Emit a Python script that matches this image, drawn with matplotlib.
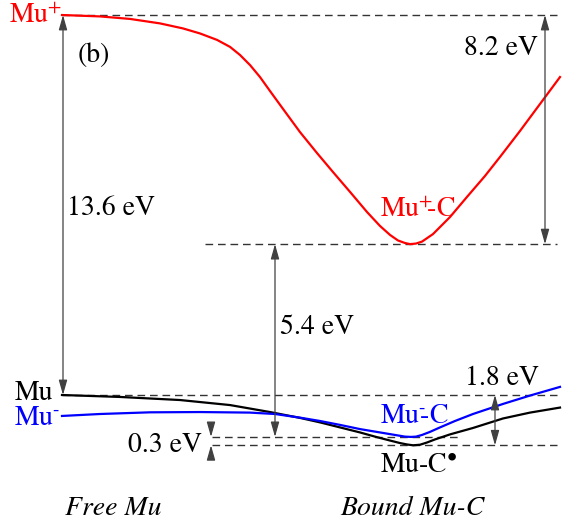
import numpy as np
import matplotlib.pyplot as plt

plt.rcParams['font.family'] = ['STIXGeneral', 'DejaVu Serif']
plt.rcParams['mathtext.fontset'] = 'stix'

# energy levels (eV, relative to free Mu)
ionization = 13.6
bind_plus = 8.2
bind_neutral = 1.8
split_neg = 0.3
e_mu = 0.0
e_mu_plus = e_mu + ionization
e_muc_plus = e_mu_plus - bind_plus
e_muc = e_mu - bind_neutral
e_muc_minus = e_muc + split_neg

# potential curves along the reaction coordinate
x_plus = [62, 100, 130, 160, 183, 200, 217, 230, 240, 250, 260, 270, 283, 300, 317,
          333, 350, 367, 380, 390, 398, 405, 410, 416, 422, 433, 450, 467, 485, 500,
          520, 543, 560]
e_plus = [13.60, 13.55, 13.46, 13.30, 13.12, 12.94, 12.71, 12.46, 12.17, 11.81, 11.38,
          10.88, 10.24, 9.41, 8.66, 7.98, 7.27, 6.55, 6.05, 5.73, 5.53, 5.44, 5.40,
          5.42, 5.49, 5.76, 6.37, 7.09, 7.84, 8.52, 9.45, 10.56, 11.38]

x_neutral = [62, 120, 180, 230, 270, 300, 320, 340, 360, 375, 390, 400, 407, 413, 420,
             427, 435, 450, 473, 503, 530, 560]
e_neutral = [0.00, -0.07, -0.18, -0.36, -0.61, -0.82, -0.98, -1.16, -1.34, -1.49, -1.63,
             -1.72, -1.77, -1.80, -1.78, -1.70, -1.59, -1.41, -1.18, -0.84, -0.63, -0.45]

x_neg = [62, 100, 150, 200, 250, 275, 300, 320, 340, 360, 380, 395, 405, 411, 416, 422,
         430, 440, 455, 473, 503, 530, 560]
e_neg = [-0.75, -0.68, -0.62, -0.61, -0.63, -0.68, -0.81, -0.93, -1.07, -1.22, -1.34,
         -1.43, -1.49, -1.50, -1.49, -1.43, -1.32, -1.16, -0.93, -0.68, -0.32, -0.02, 0.29]

px_per_ev = 27.94
fig = plt.figure(figsize=(5.75, 5.26), dpi=100)
ax = fig.add_axes([0, 0, 1, 1])
ax.set_xlim(0, 575)
ax.set_ylim((395 - 526) / px_per_ev, 395 / px_per_ev)
ax.axis('off')

# dashed reference levels
dash = dict(color='0.2', lw=1.0, ls=(0, (5.5, 3.5)))
ax.hlines(e_mu_plus, 62, 557, **dash)
ax.hlines(e_muc_plus, 205, 557, **dash)
ax.hlines(e_mu, 62, 557, **dash)
ax.hlines(e_muc_minus, 212, 462, **dash)
ax.hlines(e_muc, 212, 557, **dash)

ax.plot(x_plus, e_plus, color='#ff0000', lw=1.6, solid_joinstyle='round')
ax.plot(x_neutral, e_neutral, color='black', lw=1.6, solid_joinstyle='round')
ax.plot(x_neg, e_neg, color='#0000ff', lw=1.6, solid_joinstyle='round')

# energy-difference arrows
both = dict(arrowstyle='<|-|>,head_length=0.6,head_width=0.17', color='0.25',
            lw=0.9, shrinkA=0, shrinkB=0, mutation_scale=15)
one = dict(arrowstyle='-|>,head_length=0.6,head_width=0.17', color='0.25',
           lw=0.9, shrinkA=0, shrinkB=0, mutation_scale=15)
ax.annotate('', xy=(63, e_mu_plus), xytext=(63, e_mu), arrowprops=both)
ax.annotate('', xy=(545, e_mu_plus), xytext=(545, e_muc_plus), arrowprops=both)
ax.annotate('', xy=(275, e_muc_plus), xytext=(275, e_muc_minus), arrowprops=both)
ax.annotate('', xy=(495, e_mu), xytext=(495, e_muc), arrowprops=both)
ax.annotate('', xy=(211, e_muc_minus), xytext=(211, e_muc_minus + 0.42), arrowprops=one)
ax.annotate('', xy=(211, e_muc), xytext=(211, e_muc - 0.48), arrowprops=one)

fs = 20
ax.text(62, 13.31, r'Mu$^{+}$', color='#ff0000', fontsize=fs, ha='right', va='baseline')
ax.text(53, -0.18, 'Mu', color='black', fontsize=fs, ha='right', va='baseline')
ax.text(60, -1.07, r'Mu$^{\text{-}}$', color='#0000ff', fontsize=fs, ha='right', va='baseline')
ax.text(78, 11.92, '(b)', fontsize=fs, ha='left', va='baseline')
ax.text(67, 6.44, f'{ionization:.1f} eV', fontsize=fs, ha='left', va='baseline')
ax.text(538, 12.17, f'{bind_plus:.1f} eV', fontsize=fs, ha='right', va='baseline')
ax.text(280, 2.18, f'{e_muc_plus:.1f} eV', fontsize=fs, ha='left', va='baseline')
ax.text(502, 0.36, f'{bind_neutral:.1f} eV', fontsize=fs, ha='center', va='baseline')
ax.text(202, -2.04, f'{split_neg:.1f} eV', fontsize=fs, ha='right', va='baseline')
ax.text(380, 6.37, r'Mu$^{+}\!\!$-C', color='#ff0000', fontsize=fs, ha='left', va='baseline')
ax.text(380, -1.0, r'Mu$^{\text{-}}\!\!$-C', color='#0000ff', fontsize=fs, ha='left', va='baseline')
ax.text(380, -2.76, 'Mu-C$^{\u2022}$', color='black', fontsize=fs, ha='left', va='baseline')
ax.text(65, -4.29, 'Free Mu', fontsize=fs, style='italic', ha='left', va='baseline')
ax.text(340, -4.29, 'Bound Mu-C', fontsize=fs, style='italic', ha='left', va='baseline')

fig.savefig('out.png', dpi=100)
